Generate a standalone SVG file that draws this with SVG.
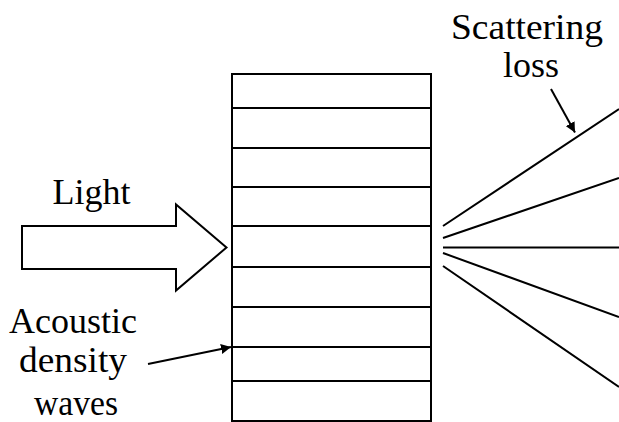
<svg xmlns="http://www.w3.org/2000/svg" width="619" height="422" viewBox="0 0 619 422">
<style>
.t{font-family:"Liberation Serif","Times New Roman",serif;font-size:36px;fill:#000;text-anchor:middle}
.s{stroke:#000;stroke-width:2;fill:none}
.f{stroke:#000;stroke-width:2;fill:#fff}
</style>
<defs>
<marker id="ah" viewBox="0 0 10 10" refX="10" refY="5" markerWidth="5" markerHeight="5" orient="auto" markerUnits="strokeWidth">
<path d="M0,0 L10,5 L0,10 z" fill="#000"/>
</marker>
</defs>
<rect width="619" height="422" fill="#fff"/>
<g id="medium">
<rect class="f" x="232" y="74" width="199" height="347"/>
<path class="s" d="M232,108H431M232,148H431M232,187H431M232,226H431M232,267H431M232,307H431M232,347H431M232,381H431"/>
</g>
<g id="light">
<path class="f" d="M22,226H176V204.5L226.5,247.5L176,290.5V269H22z"/>
<text class="t" x="91.5" y="204">Light</text>
</g>
<g id="scattering">
<text class="t" x="527" y="39" textLength="152" lengthAdjust="spacingAndGlyphs">Scattering</text>
<text class="t" x="531" y="77">loss</text>
</g>
<g id="acoustic">
<text class="t" x="73" y="333">Acoustic</text>
<text class="t" x="73" y="372" textLength="108" lengthAdjust="spacingAndGlyphs">density</text>
<text class="t" x="76" y="415" textLength="84" lengthAdjust="spacingAndGlyphs">waves</text>
</g>
<g id="connectors">
<path class="s" d="M443,226L619,109M443,238L619,178M443,247.5H619M443,253L619,317M443,266L619,387"/>
<line class="s" x1="551" y1="89" x2="575" y2="132.5" marker-end="url(#ah)"/>
<line class="s" x1="148" y1="364" x2="231" y2="347" marker-end="url(#ah)"/>
</g>
</svg>
